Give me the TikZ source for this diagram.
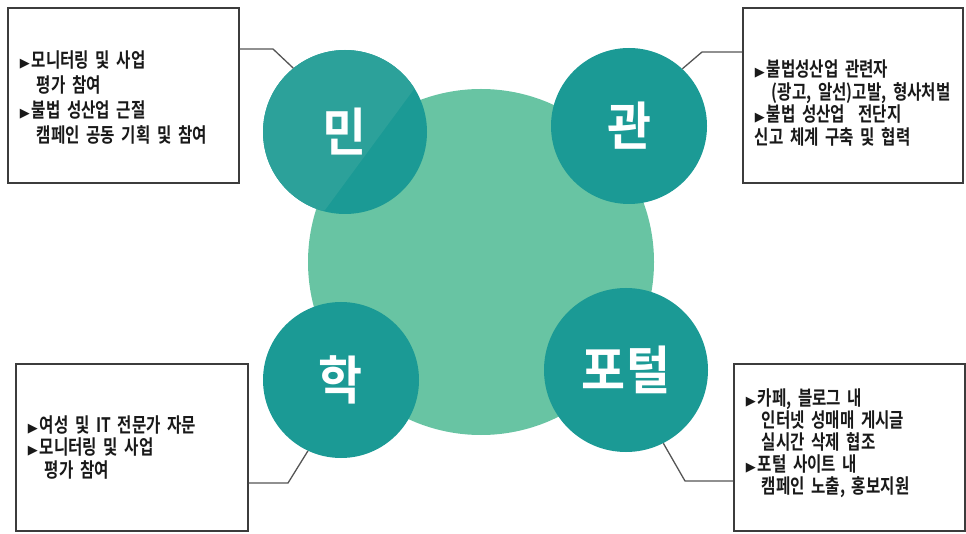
\documentclass[tikz,border=0pt]{standalone}
\usepackage{fontspec}
\usetikzlibrary{calc}
\setmainfont{Noto Sans CJK KR Bold}[FakeStretch=0.78]
\newfontfamily\symfont{DejaVu Sans}
\newfontfamily\headfont{Noto Sans CJK KR Bold}[FakeStretch=0.92]
\definecolor{teal1}{RGB}{27,154,149}
\definecolor{gloss}{RGB}{44,161,154}
\definecolor{mint}{RGB}{104,196,163}
\definecolor{edge}{RGB}{60,60,60}
\definecolor{conn}{RGB}{85,85,85}
\newcommand{\bul}{{\symfont\fontsize{13}{13}\selectfont ▶}\hspace{2pt}}
\tikzset{
  bigc/.style={circle,fill=mint,inner sep=0pt,minimum size=346pt},
  smallc/.style={circle,fill=teal1,inner sep=0pt,text=white,font=\headfont\fontsize{52}{52}\selectfont},
  box/.style={draw=edge,line width=1.6pt,fill=white,inner xsep=12pt,inner ysep=0pt,align=left,
    font=\fontsize{20}{22.5}\selectfont,text=black!90},
  connline/.style={draw=conn,line width=1.3pt}
}
\begin{document}
\begin{tikzpicture}[x=1pt,y=-1pt]
\useasboundingbox (0,0) rectangle (966,534);
\node[bigc] (core) at (481,262) {};
\node[smallc,minimum size=164pt,path picture={
   \fill[gloss] ($(path picture bounding box.center)+(-20,78)$) -- ($(path picture bounding box.center)+(100,-85)$)
     -- ($(path picture bounding box.center)+(-100,-100)$) -- ($(path picture bounding box.center)+(-100,100)$) -- cycle;}]
   (min) at (345,132) {민};
\node[smallc,minimum size=156pt] (gwan) at (629,126) {관};
\node[smallc,minimum size=156pt] (hak) at (341,380) {학};
\node[smallc,minimum size=164pt] (portal) at (626,370) {포털};

\node[box,text width=207pt,minimum height=175pt,anchor=north west,font=\fontsize{20}{25}\selectfont] (b1) at (7,7)
  {\rule{0pt}{22pt}\bul 모니터링 및 사업\\ \hspace{17pt}평가 참여\\ \bul 불법 성산업 근절\\ \hspace{17pt}캠페인 공동 기획 및 참여};
\node[box,text width=196pt,minimum height=175pt,anchor=north west] (b2) at (742,7)
  {\rule{0pt}{32pt}\bul 불법성산업 관련자\\ \hspace{17pt}(광고, 알선)고발, 형사처벌\\ \bul 불법 성산업\ \ 전단지\\ 신고 체계 구축 및 협력};
\node[box,text width=208pt,minimum height=167pt,anchor=north west] (b3) at (15,363)
  {\bul 여성 및 IT 전문가 자문\\ \bul 모니터링 및 사업\\ \hspace{17pt}평가 참여};
\node[box,text width=207pt,minimum height=167pt,anchor=north west,font=\fontsize{20}{22}\selectfont] (b4) at (733,363)
  {\bul 카페, 블로그 내\\ \hspace{16pt}인터넷 성매매 게시글\\ \hspace{16pt}실시간 삭제 협조\\ \bul 포털 사이트 내\\ \hspace{16pt}캠페인 노출, 홍보지원\rule[-12pt]{0pt}{8pt}};

\coordinate (k1) at (273,49);
\coordinate (k2) at (702,52);
\coordinate (k3) at (288,483);
\coordinate (k4) at (685,481);
\draw[connline] (b1.east |- k1) -- (k1) -- (min.129);
\draw[connline] (gwan.47) -- (k2) -- (b2.west |- k2);
\draw[connline] (b3.east |- k3) -- (k3) -- (hak.245);
\draw[connline] (portal.297) -- (k4) -- (b4.west |- k4);
\end{tikzpicture}
\end{document}
